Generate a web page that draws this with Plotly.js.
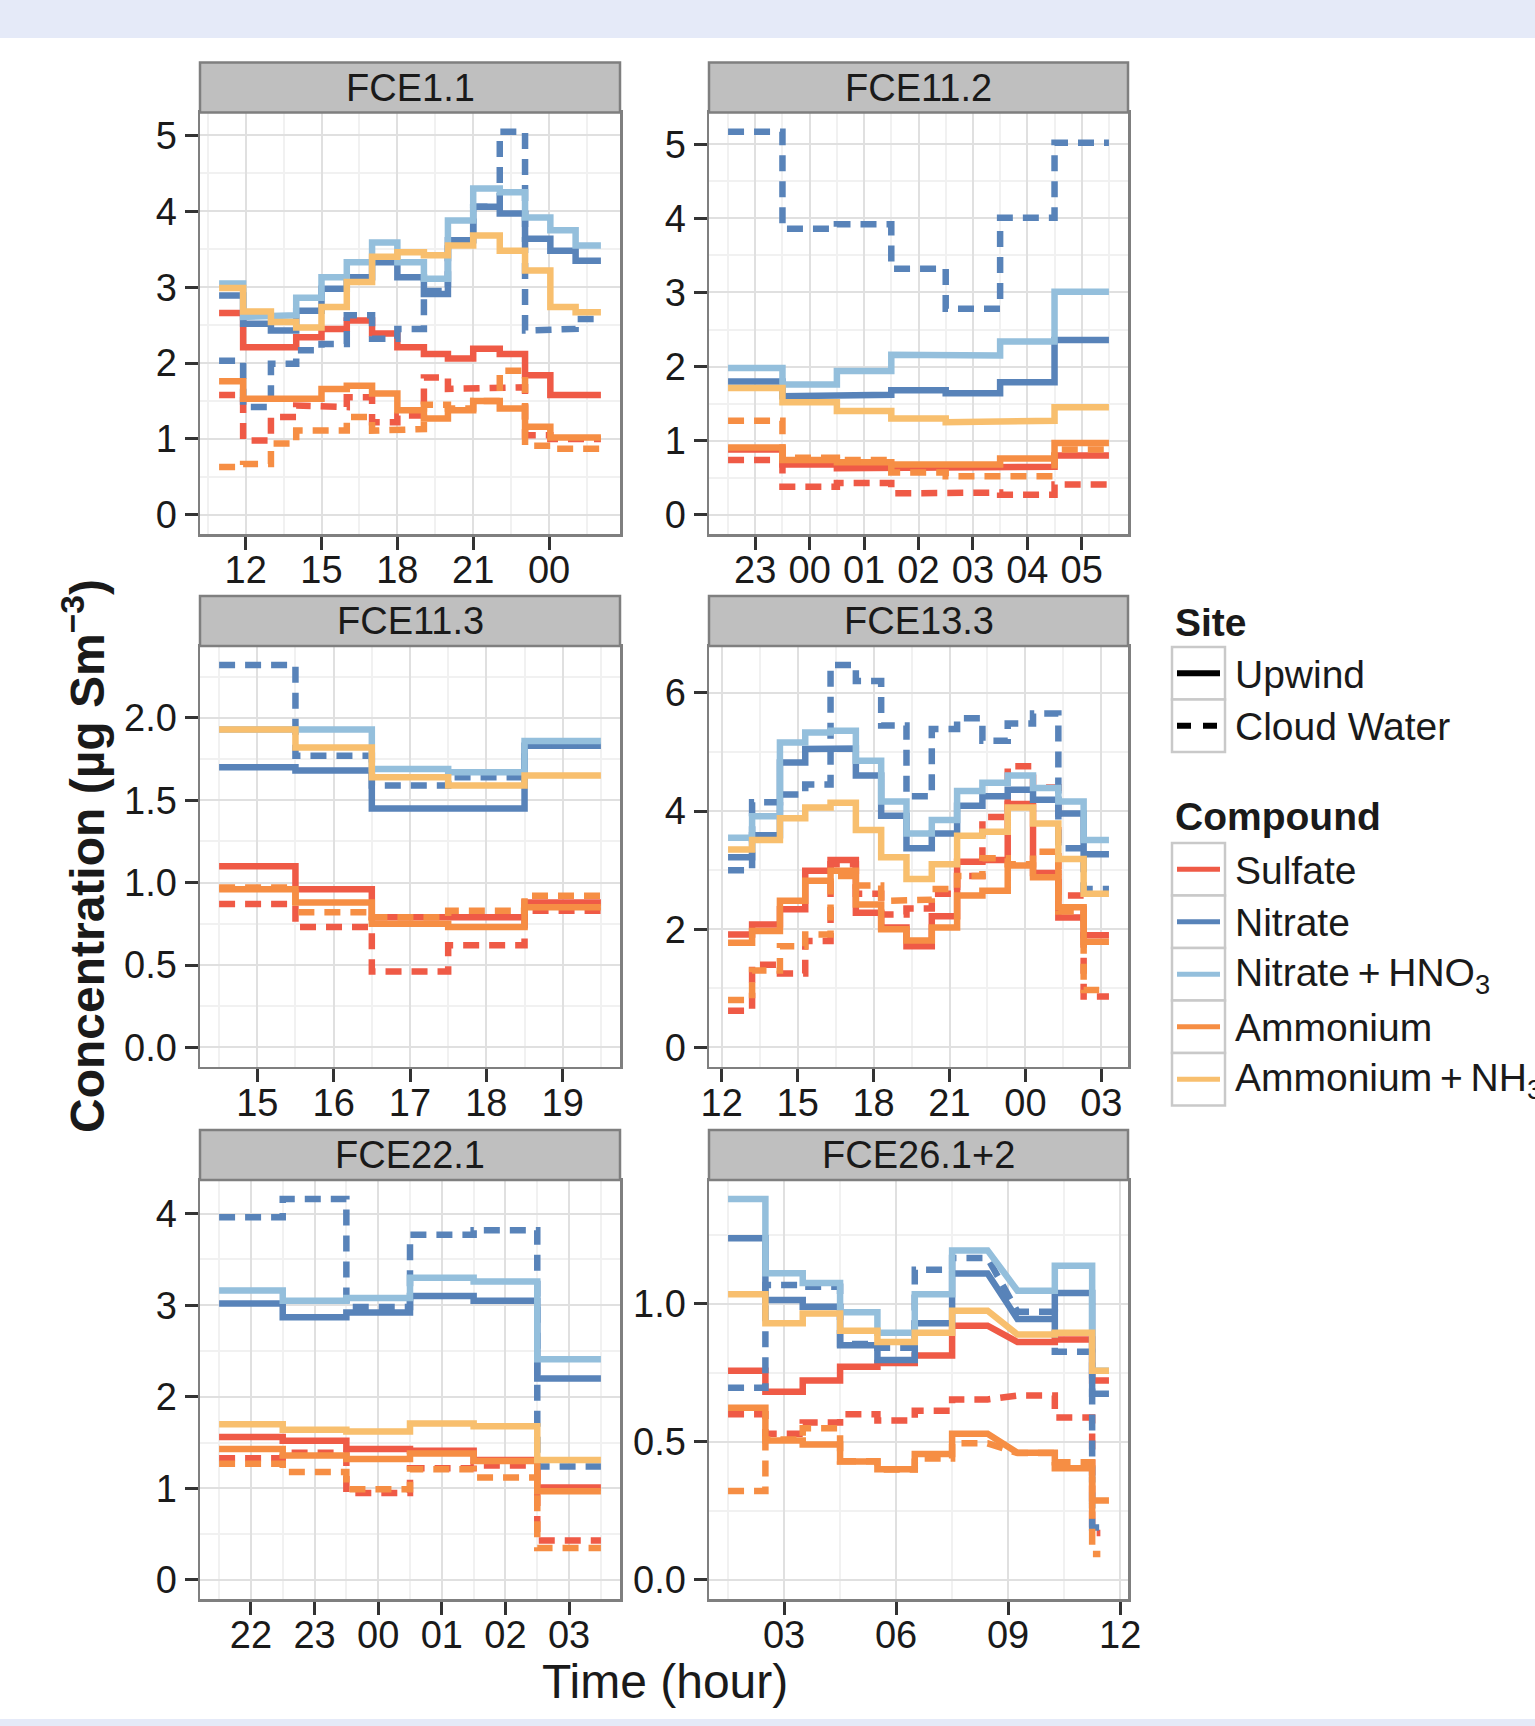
<!DOCTYPE html>
<html>
<head>
<meta charset="utf-8">
<script src="https://cdn.plot.ly/plotly-3.0.1.min.js"></script>
<style>
  html, body { margin: 0; padding: 0; background: #ffffff; }
  #chart { width: 1535px; height: 1726px; }
</style>
</head>
<body>
<div id="chart"></div>
<script>
// Hours are counted from midnight of the first sampling day; values past 24 fall on the next day.
// Each sample covers [start, end); concentrations in µg Sm^-3.

const panelNames = ['FCE1.1', 'FCE11.2', 'FCE11.3', 'FCE13.3', 'FCE22.1', 'FCE26.1+2'];
const compoundNames = ['Sulfate', 'Nitrate', 'Nitrate\u2009+\u2009HNO<sub>3</sub>', 'Ammonium', 'Ammonium\u2009+\u2009NH<sub>3</sub>'];
const siteNames = ['Upwind', 'Cloud Water'];

// ---- FCE1.1 ----
const fce1_1Start = [10.95, 11.9, 13, 14, 15, 16, 17, 18, 19.05, 20, 21, 22.05, 23.05, 24.05, 25.05];
const fce1_1End   = [11.9, 13, 14, 15, 16, 17, 18, 19.05, 20, 21, 22.05, 23.05, 24.05, 25.05, 26.05];
const fce1_1Sulfate     = [2.66, 2.21, 2.21, 2.34, 2.45, 2.56, 2.39, 2.21, 2.12, 2.06, 2.19, 2.12, 1.84, 1.58, 1.58];
const fce1_1Nitrate     = [2.89, 2.52, 2.43, 2.69, 2.98, 3.13, 3.33, 3.13, 2.91, 3.62, 4.06, 3.97, 3.64, 3.48, 3.35];
const fce1_1NitrateHNO3 = [3.05, 2.61, 2.63, 2.86, 3.13, 3.33, 3.59, 3.33, 3.11, 3.88, 4.30, 4.25, 3.92, 3.75, 3.55];
const fce1_1Ammonium    = [1.76, 1.53, 1.53, 1.53, 1.66, 1.70, 1.60, 1.38, 1.27, 1.38, 1.50, 1.40, 1.16, 1.02, 1.02];
const fce1_1AmmoniumNH3 = [2.99, 2.68, 2.54, 2.47, 2.74, 3.07, 3.40, 3.46, 3.42, 3.55, 3.68, 3.48, 3.22, 2.74, 2.67];
const fce1_1SulfateCW   = [1.58, 0.98, 1.29, 1.44, 1.42, 1.55, 1.22, 1.31, 1.81, 1.66, 1.68, 1.68, 1.05, 1.00, 1.00];
const fce1_1NitrateCW   = [2.03, 1.42, 1.99, 2.17, 2.25, 2.63, 2.32, 2.45, 2.95, 3.62, 4.06, 5.05, 2.43, 2.45, 2.58];
const fce1_1AmmoniumCW  = [0.63, 0.67, 0.94, 1.11, 1.11, 1.29, 1.11, 1.13, 1.45, 1.40, 1.50, 1.90, 0.91, 0.87, 0.87];
const fce1_1XTicks = [12, 15, 18, 21, 24];
const fce1_1XLabels = ['12', '15', '18', '21', '00'];
const fce1_1YTicks = [0, 1, 2, 3, 4, 5];
const fce1_1YLabels = ['0', '1', '2', '3', '4', '5'];

// ---- FCE11.2 ----
const fce11_2Start = [22.5, 23.5, 24.5, 25.5, 26.5, 27.5, 28.5];
const fce11_2End   = [23.5, 24.5, 25.5, 26.5, 27.5, 28.5, 29.5];
const fce11_2Sulfate     = [0.88, 0.68, 0.63, 0.63, 0.65, 0.65, 0.80];
const fce11_2Nitrate     = [1.80, 1.60, 1.62, 1.68, 1.64, 1.79, 2.36];
const fce11_2NitrateHNO3 = [1.98, 1.76, 1.94, 2.16, 2.15, 2.34, 3.01];
const fce11_2Ammonium    = [0.91, 0.74, 0.71, 0.68, 0.68, 0.76, 0.97];
const fce11_2AmmoniumNH3 = [1.71, 1.52, 1.40, 1.30, 1.25, 1.27, 1.45];
const fce11_2SulfateCW   = [0.74, 0.38, 0.43, 0.29, 0.30, 0.27, 0.41];
const fce11_2NitrateCW   = [5.17, 3.86, 3.92, 3.32, 2.78, 4.01, 5.02];
const fce11_2AmmoniumCW  = [1.27, 0.77, 0.74, 0.57, 0.52, 0.52, 0.88];
const fce11_2XTicks = [23, 24, 25, 26, 27, 28, 29];
const fce11_2XLabels = ['23', '00', '01', '02', '03', '04', '05'];
const fce11_2YTicks = [0, 1, 2, 3, 4, 5];
const fce11_2YLabels = ['0', '1', '2', '3', '4', '5'];

// ---- FCE11.3 ----
const fce11_3Start = [14.5, 15.5, 16.5, 17.5, 18.5];
const fce11_3End   = [15.5, 16.5, 17.5, 18.5, 19.5];
const fce11_3Sulfate     = [1.10, 0.96, 0.79, 0.79, 0.88];
const fce11_3Nitrate     = [1.70, 1.68, 1.45, 1.45, 1.83];
const fce11_3NitrateHNO3 = [1.93, 1.93, 1.69, 1.67, 1.86];
const fce11_3Ammonium    = [0.96, 0.88, 0.75, 0.73, 0.85];
const fce11_3AmmoniumNH3 = [1.93, 1.82, 1.64, 1.59, 1.65];
const fce11_3SulfateCW   = [0.87, 0.73, 0.46, 0.62, 0.83];
const fce11_3NitrateCW   = [2.32, 1.77, 1.59, 1.64, 1.84];
const fce11_3AmmoniumCW  = [0.97, 0.82, 0.79, 0.83, 0.92];
const fce11_3XTicks = [15, 16, 17, 18, 19];
const fce11_3XLabels = ['15', '16', '17', '18', '19'];
const fce11_3YTicks = [0, 0.5, 1, 1.5, 2];
const fce11_3YLabels = ['0.0', '0.5', '1.0', '1.5', '2.0'];

// ---- FCE13.3 ----
const fce13_3Start = [12.25, 13.2, 14.3, 15.3, 16.3, 17.3, 18.3, 19.3, 20.3, 21.3, 22.3, 23.3, 24.3, 25.3, 26.3];
const fce13_3End   = [13.2, 14.3, 15.3, 16.3, 17.3, 18.3, 19.3, 20.3, 21.3, 22.3, 23.3, 24.3, 25.3, 26.3, 27.3];
const fce13_3Sulfate     = [1.91, 2.08, 2.34, 2.99, 3.17, 2.28, 2.03, 1.71, 2.22, 3.14, 3.17, 4.12, 2.95, 2.20, 1.90];
const fce13_3Nitrate     = [3.22, 3.59, 4.82, 5.05, 5.06, 4.60, 3.92, 3.37, 3.62, 4.09, 4.25, 4.36, 4.19, 3.96, 3.27];
const fce13_3NitrateHNO3 = [3.55, 3.91, 5.16, 5.33, 5.36, 4.85, 4.16, 3.62, 3.85, 4.34, 4.48, 4.60, 4.39, 4.16, 3.51];
const fce13_3Ammonium    = [1.77, 1.97, 2.48, 2.82, 2.99, 2.42, 2.00, 1.81, 2.03, 2.57, 2.65, 3.08, 2.88, 2.37, 1.79];
const fce13_3AmmoniumNH3 = [3.35, 3.51, 3.88, 4.06, 4.14, 3.68, 3.22, 2.85, 3.10, 3.58, 3.65, 4.06, 3.79, 3.19, 2.60];
const fce13_3SulfateCW   = [0.62, 1.40, 1.25, 1.80, 3.10, 2.60, 2.25, 2.35, 2.60, 2.90, 3.90, 4.76, 4.40, 2.57, 0.86];
const fce13_3NitrateCW   = [3.00, 4.15, 4.28, 4.45, 6.47, 6.20, 5.45, 4.25, 5.39, 5.57, 5.19, 5.48, 5.65, 3.37, 2.68];
const fce13_3AmmoniumCW  = [0.80, 1.30, 1.71, 1.91, 2.90, 2.74, 2.48, 2.50, 2.68, 2.90, 3.20, 3.10, 3.31, 2.30, 0.97];
const fce13_3XTicks = [12, 15, 18, 21, 24, 27];
const fce13_3XLabels = ['12', '15', '18', '21', '00', '03'];
const fce13_3YTicks = [0, 2, 4, 6];
const fce13_3YLabels = ['0', '2', '4', '6'];

// ---- FCE22.1 ----
const fce22_1Start = [21.5, 22.5, 23.5, 24.5, 25.5, 26.5];
const fce22_1End   = [22.5, 23.5, 24.5, 25.5, 26.5, 27.5];
const fce22_1Sulfate     = [1.56, 1.52, 1.43, 1.41, 1.31, 1.01];
const fce22_1Nitrate     = [3.02, 2.87, 2.92, 3.10, 3.05, 2.20];
const fce22_1NitrateHNO3 = [3.16, 3.05, 3.08, 3.30, 3.26, 2.41];
const fce22_1Ammonium    = [1.43, 1.36, 1.32, 1.38, 1.30, 0.97];
const fce22_1AmmoniumNH3 = [1.70, 1.64, 1.62, 1.71, 1.68, 1.31];
const fce22_1SulfateCW   = [1.33, 1.39, 0.95, 1.22, 1.25, 0.43];
const fce22_1NitrateCW   = [3.96, 4.16, 2.98, 3.77, 3.82, 1.24];
const fce22_1AmmoniumCW  = [1.27, 1.18, 0.99, 1.21, 1.12, 0.35];
const fce22_1XTicks = [22, 23, 24, 25, 26, 27];
const fce22_1XLabels = ['22', '23', '00', '01', '02', '03'];
const fce22_1YTicks = [0, 1, 2, 3, 4];
const fce22_1YLabels = ['0', '1', '2', '3', '4'];

// ---- FCE26.1+2 ----
const fce26Start = [1.5, 2.5, 3.5, 4.5, 5.5, 6.5, 7.5, 9.25, 10.25, 11.25];
const fce26End   = [2.5, 3.5, 4.5, 5.5, 6.5, 7.5, 8.45, 10.25, 11.25, 11.7];
const fce26CWEnd = [2.5, 3.5, 4.5, 5.5, 6.5, 7.5, 8.45, 10.25, 11.25, 11.47];
const fce26Sulfate     = [0.758, 0.682, 0.723, 0.772, 0.786, 0.813, 0.921, 0.862, 0.871, 0.723];
const fce26Nitrate     = [1.238, 1.014, 0.990, 0.850, 0.797, 0.930, 1.110, 0.945, 1.040, 0.675];
const fce26NitrateHNO3 = [1.380, 1.111, 1.076, 0.970, 0.896, 1.035, 1.194, 1.048, 1.138, 0.758];
const fce26Ammonium    = [0.624, 0.505, 0.491, 0.429, 0.401, 0.456, 0.530, 0.461, 0.405, 0.288];
const fce26AmmoniumNH3 = [1.035, 0.930, 0.965, 0.903, 0.862, 0.896, 0.975, 0.889, 0.896, 0.758];
const fce26SulfateCW   = [0.600, 0.530, 0.570, 0.600, 0.578, 0.613, 0.654, 0.668, 0.589, 0.170];
const fce26NitrateCW   = [0.696, 1.069, 1.062, 0.855, 0.841, 1.124, 1.166, 0.972, 0.827, 0.190];
const fce26AmmoniumCW  = [0.322, 0.509, 0.550, 0.430, 0.400, 0.440, 0.495, 0.460, 0.426, 0.094];
const fce26XTicks = [3, 6, 9, 12];
const fce26XLabels = ['03', '06', '09', '12'];
const fce26YTicks = [0, 0.5, 1];
const fce26YLabels = ['0.0', '0.5', '1.0'];

// Colours for the five compounds, in legend order.
const compoundColors = ['#EF5A46', '#5883B9', '#94BFDC', '#F68E44', '#F8BF6E'];
const dashPattern = '16px,10px';
const lineWidth = 6.5;

const panels = [
  { name: panelNames[0], start: fce1_1Start, end: fce1_1End, cwEnd: fce1_1End,
    up: [fce1_1Sulfate, fce1_1Nitrate, fce1_1NitrateHNO3, fce1_1Ammonium, fce1_1AmmoniumNH3],
    cw: [fce1_1SulfateCW, fce1_1NitrateCW, null, fce1_1AmmoniumCW, null],
    xt: fce1_1XTicks, xl: fce1_1XLabels, yt: fce1_1YTicks, yl: fce1_1YLabels },
  { name: panelNames[1], start: fce11_2Start, end: fce11_2End, cwEnd: fce11_2End,
    up: [fce11_2Sulfate, fce11_2Nitrate, fce11_2NitrateHNO3, fce11_2Ammonium, fce11_2AmmoniumNH3],
    cw: [fce11_2SulfateCW, fce11_2NitrateCW, null, fce11_2AmmoniumCW, null],
    xt: fce11_2XTicks, xl: fce11_2XLabels, yt: fce11_2YTicks, yl: fce11_2YLabels },
  { name: panelNames[2], start: fce11_3Start, end: fce11_3End, cwEnd: fce11_3End,
    up: [fce11_3Sulfate, fce11_3Nitrate, fce11_3NitrateHNO3, fce11_3Ammonium, fce11_3AmmoniumNH3],
    cw: [fce11_3SulfateCW, fce11_3NitrateCW, null, fce11_3AmmoniumCW, null],
    xt: fce11_3XTicks, xl: fce11_3XLabels, yt: fce11_3YTicks, yl: fce11_3YLabels },
  { name: panelNames[3], start: fce13_3Start, end: fce13_3End, cwEnd: fce13_3End,
    up: [fce13_3Sulfate, fce13_3Nitrate, fce13_3NitrateHNO3, fce13_3Ammonium, fce13_3AmmoniumNH3],
    cw: [fce13_3SulfateCW, fce13_3NitrateCW, null, fce13_3AmmoniumCW, null],
    xt: fce13_3XTicks, xl: fce13_3XLabels, yt: fce13_3YTicks, yl: fce13_3YLabels },
  { name: panelNames[4], start: fce22_1Start, end: fce22_1End, cwEnd: fce22_1End,
    up: [fce22_1Sulfate, fce22_1Nitrate, fce22_1NitrateHNO3, fce22_1Ammonium, fce22_1AmmoniumNH3],
    cw: [fce22_1SulfateCW, fce22_1NitrateCW, null, fce22_1AmmoniumCW, null],
    xt: fce22_1XTicks, xl: fce22_1XLabels, yt: fce22_1YTicks, yl: fce22_1YLabels },
  { name: panelNames[5], start: fce26Start, end: fce26End, cwEnd: fce26CWEnd,
    up: [fce26Sulfate, fce26Nitrate, fce26NitrateHNO3, fce26Ammonium, fce26AmmoniumNH3],
    cw: [fce26SulfateCW, fce26NitrateCW, null, fce26AmmoniumCW, null],
    xt: fce26XTicks, xl: fce26XLabels, yt: fce26YTicks, yl: fce26YLabels }
];

// ---- page geometry (pixels) ----
const W = 1535, H = 1726;
const colPx = [[200, 620], [709, 1128]];
const rowPx = [[112.5, 534], [646, 1066.5], [1180, 1599]];
const stripH = 50;
const px = x => x / W;
const py = y => 1 - y / H;

const FONT = '"Liberation Sans", Arial, Helvetica, sans-serif';
const TEXT = '#1A1A1A';

function midTicks(t) {
  const out = [];
  const step = t.length > 1 ? t[1] - t[0] : 1;
  out.push(t[0] - step / 2);
  for (let i = 0; i < t.length - 1; i++) out.push((t[i] + t[i + 1]) / 2);
  out.push(t[t.length - 1] + step / 2);
  return out;
}

const traces = [];
const layout = {
  width: W, height: H,
  margin: { l: 0, r: 0, t: 0, b: 0, pad: 0 },
  paper_bgcolor: '#FFFFFF',
  plot_bgcolor: '#FFFFFF',
  showlegend: false,
  font: { family: FONT, color: TEXT },
  shapes: [],
  annotations: []
};

// Light bands along the top and bottom edges of the page.
layout.shapes.push({ type: 'rect', xref: 'paper', yref: 'paper', x0: 0, x1: 1, y0: py(38), y1: 1,
  fillcolor: '#E5EAF8', line: { width: 0 }, layer: 'below' });
layout.shapes.push({ type: 'rect', xref: 'paper', yref: 'paper', x0: 0, x1: 1, y0: 0, y1: py(1719),
  fillcolor: '#E5EAF8', line: { width: 0 }, layer: 'below' });

panels.forEach((p, k) => {
  const col = k % 2, row = Math.floor(k / 2);
  const sfx = k === 0 ? '' : String(k + 1);

  // One step trace per compound and site.
  compoundColors.forEach((color, c) => {
    const series = [[p.up[c], p.end, 'solid'], [p.cw[c], p.cwEnd, dashPattern]];
    series.forEach(([vals, ends, dash]) => {
      if (!vals) return;
      const x = [], y = [];
      vals.forEach((v, i) => { x.push(p.start[i], ends[i]); y.push(v, v); });
      traces.push({
        type: 'scatter', mode: 'lines', x, y,
        xaxis: 'x' + sfx, yaxis: 'y' + sfx,
        line: { color, width: lineWidth, dash },
        hoverinfo: 'skip', showlegend: false
      });
    });
  });

  // Axis ranges padded like ggplot: 5% each side, y anchored at zero.
  const xmin = Math.min(...p.start);
  const xmax = Math.max(...p.end, ...p.cwEnd);
  const xpad = 0.05 * (xmax - xmin);
  const allVals = [].concat(...p.up, ...p.cw.filter(Boolean));
  const ymax = Math.max(...allVals);

  const common = {
    showline: true, mirror: true, linecolor: '#7F7F7F', linewidth: 2.5,
    ticks: 'outside', ticklen: 13, tickwidth: 3, tickcolor: '#333333',
    showgrid: true, gridcolor: '#E0E0E0', gridwidth: 2,
    zeroline: false, fixedrange: true,
    tickfont: { family: FONT, size: 38, color: TEXT },
    tickmode: 'array'
  };

  layout['xaxis' + sfx] = Object.assign({}, common, {
    domain: [px(colPx[col][0]), px(colPx[col][1])],
    anchor: 'y' + sfx,
    range: [xmin - xpad, xmax + xpad],
    tickvals: p.xt, ticktext: p.xl,
    ticklabelstandoff: -12,
    minor: { tickmode: 'array', tickvals: midTicks(p.xt), showgrid: true,
             gridcolor: '#F1F1F1', gridwidth: 2, ticks: '' }
  });
  layout['yaxis' + sfx] = Object.assign({}, common, {
    domain: [py(rowPx[row][1]), py(rowPx[row][0])],
    anchor: 'x' + sfx,
    range: [-0.05 * ymax, 1.05 * ymax],
    tickvals: p.yt, ticktext: p.yl,
    ticklabelstandoff: 0,
    minor: { tickmode: 'array', tickvals: midTicks(p.yt), showgrid: true,
             gridcolor: '#F1F1F1', gridwidth: 2, ticks: '' }
  });

  // Facet strip with the flight name.
  layout.shapes.push({
    type: 'rect', xref: 'paper', yref: 'paper',
    x0: px(colPx[col][0]), x1: px(colPx[col][1]),
    y0: py(rowPx[row][0]), y1: py(rowPx[row][0] - stripH),
    fillcolor: '#BFBFBF', line: { color: '#7F7F7F', width: 2.5 }
  });
  layout.annotations.push({
    xref: 'paper', yref: 'paper',
    x: px((colPx[col][0] + colPx[col][1]) / 2), y: py(rowPx[row][0] - stripH / 2),
    xanchor: 'center', yanchor: 'middle', showarrow: false,
    text: p.name, font: { family: FONT, size: 38, color: TEXT }
  });
});

// Axis titles.
layout.annotations.push({
  xref: 'paper', yref: 'paper', x: px(84), y: py(856),
  xanchor: 'center', yanchor: 'middle', showarrow: false, textangle: -90,
  text: '<b>Concentration (µg Sm<sup>−3</sup>)</b>',
  font: { family: FONT, size: 48, color: TEXT }
});
layout.annotations.push({
  xref: 'paper', yref: 'paper', x: px(665), y: py(1681),
  xanchor: 'center', yanchor: 'middle', showarrow: false,
  text: 'Time (hour)', font: { family: FONT, size: 48, color: TEXT }
});

// ---- legends: Site (line type) and Compound (colour) ----
const keyX = [1172, 1225];
const keyLineX = [1177, 1220];
const labelX = 1233;
const keyH = 52.5;

function legendTitle(text, yc) {
  layout.annotations.push({
    xref: 'paper', yref: 'paper', x: px(1173), y: py(yc),
    xanchor: 'left', yanchor: 'middle', showarrow: false,
    text: '<b>' + text + '</b>', font: { family: FONT, size: 39, color: TEXT }
  });
}
function legendKey(top, color, dash, width, label) {
  layout.shapes.push({
    type: 'rect', xref: 'paper', yref: 'paper',
    x0: px(keyX[0]), x1: px(keyX[1]), y0: py(top + keyH), y1: py(top),
    fillcolor: '#FFFFFF', line: { color: '#C9C9C9', width: 2.5 }
  });
  layout.shapes.push({
    type: 'line', xref: 'paper', yref: 'paper',
    x0: px(keyLineX[0]), x1: px(keyLineX[1]), y0: py(top + keyH / 2), y1: py(top + keyH / 2),
    line: { color, width, dash }
  });
  layout.annotations.push({
    xref: 'paper', yref: 'paper', x: px(labelX), y: py(top + keyH / 2 + 1),
    xanchor: 'left', yanchor: 'middle', showarrow: false,
    text: label, font: { family: FONT, size: 39, color: TEXT }
  });
}

legendTitle('Site', 622);
legendKey(647, '#000000', 'solid', 6, siteNames[0]);
legendKey(647 + keyH, '#000000', '14px,12px', 6, siteNames[1]);

legendTitle('Compound', 816);
compoundNames.forEach((name, i) => {
  legendKey(843 + i * keyH, compoundColors[i], 'solid', 5, name);
});

Plotly.newPlot('chart', traces, layout, { staticPlot: true, displayModeBar: false });
</script>
</body>
</html>
